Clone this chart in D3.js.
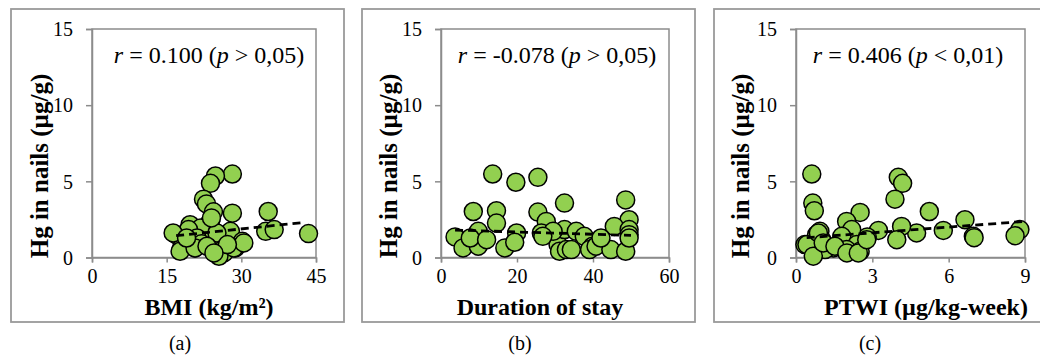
<!DOCTYPE html>
<html>
<head>
<meta charset="utf-8">
<script src="https://cdn.jsdelivr.net/npm/d3@7"></script>
<style>
  body { margin: 0; background: #fff; }
  svg text { font-family: "Liberation Serif", "Times New Roman", Times, "DejaVu Serif", serif; }
</style>
</head>
<body>
<svg id="chart" width="1040" height="362"></svg>
<script>
// Hg in nails vs BMI (a)
const bmiX = [28.2, 24.8, 23.8, 22.4, 23.0, 24.4, 28.2, 35.4, 34.9, 36.6, 43.5, 23.8, 19.7, 16.9,
  18.4, 21.8, 18.0, 20.7, 22.8, 24.4, 26.1, 27.8, 30.2, 28.8, 25.8, 26.8, 25.1, 19.4, 21.1,
  24.0, 26.5, 22.0, 17.7, 25.5, 28.5, 30.5, 20.7, 16.3, 19.0, 23.1, 27.2, 24.5];
const bmiHg = [5.48, 5.35, 4.87, 3.83, 3.52, 3.0, 2.91, 3.02, 1.72, 1.83, 1.57, 2.37, 2.15, 1.50,
  1.35, 1.93, 0.63, 0.63, 1.06, 0.63, 1.17, 1.72, 1.06, 0.63, 0.41, 0.52, 1.61, 1.83, 1.28,
  2.6, 0.3, 0.9, 0.41, 0.08, 0.63, 0.96, 0.63, 1.61, 1.28, 0.74, 0.85, 0.3];

// Hg in nails vs duration of stay (b)
const stayX = [13.6, 19.7, 25.5, 32.5, 48.6, 8.5, 14.6, 25.5, 14.6, 49.5, 45.6, 27.7, 3.7, 9.8,
  5.8, 9.8, 7.7, 12.0, 16.8, 19.9, 19.4, 26.4, 30.8, 31.2, 33.0, 32.5, 35.6, 37.7, 39.9,
  39.1, 40.8, 44.7, 48.6, 49.5, 49.5, 49.5, 34.3, 42.1, 29.5, 26.8];
const stayHg = [5.48, 4.94, 5.26, 3.57, 3.78, 3.02, 3.07, 2.98, 2.26, 2.48, 2.04, 2.37, 1.35, 1.72,
  0.63, 0.74, 1.28, 1.17, 0.63, 1.61, 1.0, 1.61, 0.85, 0.41, 0.52, 1.83, 1.72, 1.39, 0.74,
  0.52, 0.74, 0.52, 0.41, 1.83, 1.5, 1.28, 0.52, 1.28, 1.72, 1.39];

// Hg in nails vs PTWI (c)
const ptwiX = [0.62, 4.02, 4.19, 3.89, 0.66, 0.72, 2.52, 5.24, 1.99, 6.64, 8.8, 8.61, 6.97, 5.79,
  4.74, 4.15, 3.96, 3.24, 2.8, 2.19, 1.8, 2.39, 0.94, 1.01, 0.35, 0.62, 1.47, 1.99, 2.52,
  1.14, 7.0, 0.81, 0.43, 0.68, 0.88, 1.07, 1.53, 2.0, 2.45, 2.78];
const ptwiHg = [5.48, 5.26, 4.87, 3.83, 3.57, 3.07, 2.96, 3.02, 2.37, 2.48, 1.83, 1.43, 1.39, 1.78,
  1.61, 2.04, 1.17, 1.78, 1.35, 1.83, 1.39, 0.85, 1.72, 1.17, 0.85, 0.63, 0.63, 0.52, 0.41,
  0.52, 1.3, 1.5, 0.85, 0.09, 1.61, 0.96, 0.74, 0.3, 0.3, 1.17];

// trend line end points
const trendA = [[16.9, 1.43], [42.5, 2.3]];
const trendB = [[3.7, 1.8], [50, 1.45]];
const trendC = [[0.42, 1.3], [9, 2.37]];

const yTicks = [0, 5, 10, 15];

const panels = [
  { xs: bmiX, ys: bmiHg, trend: trendA, domain: [0, 45], ticks: [0, 15, 30, 45],
    frame: [11, 9, 344, 322], plot: [92, 316], xTitle: "BMI (kg/m²)", xTitleX: 209,
    yTitleX: 40, note: ["0.100", ">", "0,05"], noteX: 209, label: "(a)", labelX: 180 },
  { xs: stayX, ys: stayHg, trend: trendB, domain: [0, 60], ticks: [0, 20, 40, 60],
    frame: [362, 9, 695, 322], plot: [441, 669], xTitle: "Duration of stay", xTitleX: 540,
    yTitleX: 389, note: ["-0.078", ">", "0,05"], noteX: 557, label: "(b)", labelX: 520 },
  { xs: ptwiX, ys: ptwiHg, trend: trendC, domain: [0, 9], ticks: [0, 3, 6, 9],
    frame: [714, 9, 1045, 322], plot: [796, 1025], xTitle: "PTWI (µg/kg-week)", xTitleX: 926,
    yTitleX: 741, note: ["0.406", "<", "0,01"], noteX: 908, label: "(c)", labelX: 870 }
];

const svg = d3.select("#chart");
const plotTop = 29, plotBottom = 257.5;
const axisGray = "#8c8c8c";
const serif = "'Liberation Serif', 'Times New Roman', Times, 'DejaVu Serif', serif";

panels.forEach(p => {
  const g = svg.append("g");
  const f = p.frame;
  g.append("rect")
    .attr("x", f[0]).attr("y", f[1])
    .attr("width", f[2] - f[0]).attr("height", f[3] - f[1])
    .attr("fill", "none").attr("stroke", "#9a9a9a").attr("stroke-width", 1.8);

  const x = d3.scaleLinear().domain(p.domain).range(p.plot);
  const y = d3.scaleLinear().domain([0, 15]).range([plotBottom, plotTop]);

  // plot area border
  g.append("rect")
    .attr("x", p.plot[0]).attr("y", plotTop)
    .attr("width", p.plot[1] - p.plot[0]).attr("height", plotBottom - plotTop)
    .attr("fill", "none").attr("stroke", axisGray).attr("stroke-width", 1.5);

  const xAxis = g.append("g").attr("transform", `translate(0,${plotBottom})`)
    .call(d3.axisBottom(x).tickValues(p.ticks).tickSize(5).tickPadding(6));
  const yAxis = g.append("g").attr("transform", `translate(${p.plot[0]},0)`)
    .call(d3.axisLeft(y).tickValues(yTicks).tickSize(6).tickPadding(13));
  [xAxis, yAxis].forEach(a => {
    a.attr("font-family", serif).attr("font-size", 20);
    a.select(".domain").attr("stroke", axisGray).attr("stroke-width", 1.5);
    a.selectAll(".tick line").attr("stroke", axisGray).attr("stroke-width", 1.5);
    a.selectAll(".tick text").attr("fill", "#000");
  });
  xAxis.selectAll(".tick text").attr("dy", "0.72em");
  yAxis.selectAll(".tick text").attr("dy", "0.34em");

  const pts = p.xs.map((v, i) => [v, p.ys[i]]);
  g.append("g").selectAll("circle")
    .data(pts)
    .enter()
    .append("circle")
    .attr("cx", d => x(d[0]))
    .attr("cy", d => y(d[1]))
    .attr("r", 9)
    .attr("fill", "#92d050")
    .attr("stroke", "#000")
    .attr("stroke-width", 1.5);

  g.append("path")
    .datum(p.trend)
    .attr("d", d3.line().x(d => x(d[0])).y(d => y(d[1])))
    .attr("fill", "none")
    .attr("stroke", "#000")
    .attr("stroke-width", 2.8)
    .attr("stroke-dasharray", "8,5");

  // correlation note
  const note = g.append("text")
    .attr("x", p.noteX).attr("y", 63)
    .attr("text-anchor", "middle")
    .attr("font-family", serif)
    .attr("font-size", 24);
  note.append("tspan").attr("font-style", "italic").text("r");
  note.append("tspan").text(` = ${p.note[0]} (`);
  note.append("tspan").attr("font-style", "italic").text("p");
  note.append("tspan").text(` ${p.note[1]} ${p.note[2]})`);

  g.append("text")
    .attr("transform", `translate(${p.yTitleX},166) rotate(-90)`)
    .attr("dy", "0.3em")
    .attr("text-anchor", "middle")
    .attr("font-family", serif)
    .attr("font-size", 25).attr("font-weight", "bold")
    .text("Hg in nails (µg/g)");

  g.append("text")
    .attr("x", p.xTitleX).attr("y", 315)
    .attr("text-anchor", "middle")
    .attr("font-family", serif)
    .attr("font-size", 24).attr("font-weight", "bold")
    .text(p.xTitle);

  g.append("text")
    .attr("x", p.labelX).attr("y", 350)
    .attr("text-anchor", "middle")
    .attr("font-family", serif)
    .attr("font-size", 20)
    .text(p.label);
});
</script>
</body>
</html>
